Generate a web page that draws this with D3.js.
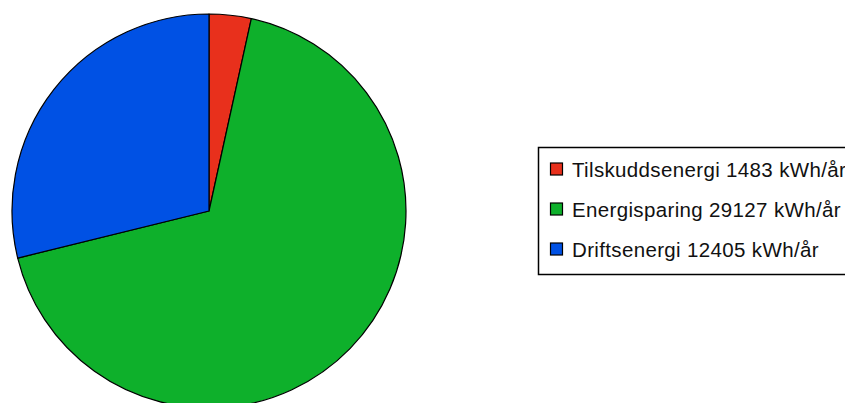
<!DOCTYPE html>
<html>
<head>
<meta charset="utf-8">
<script src="https://cdn.jsdelivr.net/npm/d3@7"></script>
<style>
  body { margin: 0; background: #fff; }
  svg { display: block; }
</style>
</head>
<body>
<div id="chart"></div>
<script>
// chart data
const labels = ["Tilskuddsenergi", "Energisparing", "Driftsenergi"];
const values = [1483, 29127, 12405];
const unit = "kWh/år";
const colors = ["#e8301c", "#0eb02b", "#0051e4"];

const W = 845, H = 403;

const svg = d3.select("#chart")
  .append("svg")
  .attr("width", W)
  .attr("height", H);

// Pie
const cx = 209, cy = 211, r = 197;
const pie = d3.pie().sort(null).value(d => d);
const arc = d3.arc().innerRadius(0).outerRadius(r);

svg.append("g")
  .attr("transform", `translate(${cx},${cy})`)
  .selectAll("path")
  .data(pie(values))
  .join("path")
  .attr("d", arc)
  .attr("fill", (d, i) => colors[i])
  .attr("stroke", "#000")
  .attr("stroke-width", 1.2)
  .attr("stroke-linejoin", "round");

// Legend
const legend = svg.append("g");
legend.append("rect")
  .attr("x", 538.5)
  .attr("y", 147.5)
  .attr("width", 400)
  .attr("height", 127)
  .attr("fill", "#fff")
  .attr("stroke", "#000")
  .attr("stroke-width", 1.5);

const rowY = d3.scalePoint().domain(labels).range([169.5, 249.5]);

const rows = legend.selectAll("g.row")
  .data(labels)
  .join("g")
  .attr("class", "row")
  .attr("transform", d => `translate(0,${rowY(d)})`);

rows.append("rect")
  .attr("x", 550.5)
  .attr("y", -6.5)
  .attr("width", 12)
  .attr("height", 12)
  .attr("fill", (d, i) => colors[i])
  .attr("stroke", "#000")
  .attr("stroke-width", 1.2);

rows.append("text")
  .attr("x", 572)
  .attr("y", 7.5)
  .attr("font-family", "Liberation Sans, Arial, sans-serif")
  .attr("font-size", 20.5)
  .attr("letter-spacing", 0.35)
  .attr("fill", "#111")
  .text((d, i) => `${d} ${values[i]} ${unit}`);
</script>
</body>
</html>
